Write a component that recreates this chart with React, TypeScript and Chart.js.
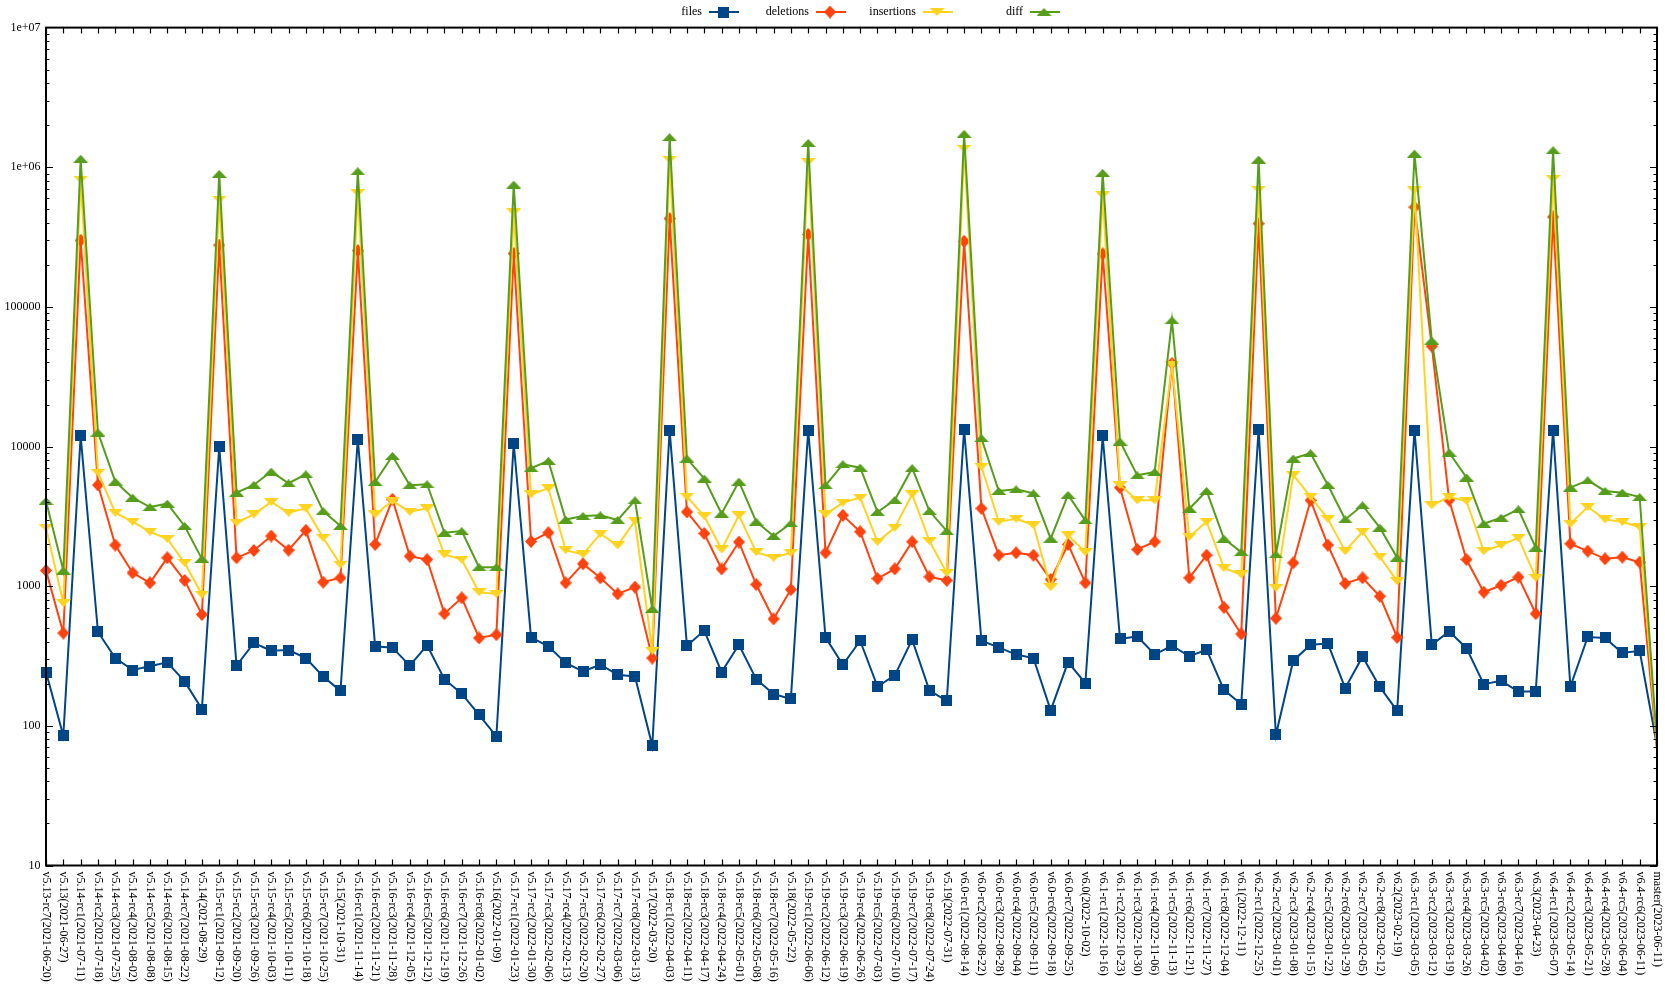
import React, { useEffect, useRef } from "react";
import { Chart, registerables } from "chart.js";

Chart.register(...registerables);

const categories = [
  "v5.13-rc7(2021-06-20)", "v5.13(2021-06-27)", "v5.14-rc1(2021-07-11)", "v5.14-rc2(2021-07-18)",
  "v5.14-rc3(2021-07-25)", "v5.14-rc4(2021-08-02)", "v5.14-rc5(2021-08-08)", "v5.14-rc6(2021-08-15)",
  "v5.14-rc7(2021-08-22)", "v5.14(2021-08-29)", "v5.15-rc1(2021-09-12)", "v5.15-rc2(2021-09-20)",
  "v5.15-rc3(2021-09-26)", "v5.15-rc4(2021-10-03)", "v5.15-rc5(2021-10-11)", "v5.15-rc6(2021-10-18)",
  "v5.15-rc7(2021-10-25)", "v5.15(2021-10-31)", "v5.16-rc1(2021-11-14)", "v5.16-rc2(2021-11-21)",
  "v5.16-rc3(2021-11-28)", "v5.16-rc4(2021-12-05)", "v5.16-rc5(2021-12-12)", "v5.16-rc6(2021-12-19)",
  "v5.16-rc7(2021-12-26)", "v5.16-rc8(2022-01-02)", "v5.16(2022-01-09)", "v5.17-rc1(2022-01-23)",
  "v5.17-rc2(2022-01-30)", "v5.17-rc3(2022-02-06)", "v5.17-rc4(2022-02-13)", "v5.17-rc5(2022-02-20)",
  "v5.17-rc6(2022-02-27)", "v5.17-rc7(2022-03-06)", "v5.17-rc8(2022-03-13)", "v5.17(2022-03-20)",
  "v5.18-rc1(2022-04-03)", "v5.18-rc2(2022-04-11)", "v5.18-rc3(2022-04-17)", "v5.18-rc4(2022-04-24)",
  "v5.18-rc5(2022-05-01)", "v5.18-rc6(2022-05-08)", "v5.18-rc7(2022-05-16)", "v5.18(2022-05-22)",
  "v5.19-rc1(2022-06-06)", "v5.19-rc2(2022-06-12)", "v5.19-rc3(2022-06-19)", "v5.19-rc4(2022-06-26)",
  "v5.19-rc5(2022-07-03)", "v5.19-rc6(2022-07-10)", "v5.19-rc7(2022-07-17)", "v5.19-rc8(2022-07-24)",
  "v5.19(2022-07-31)", "v6.0-rc1(2022-08-14)", "v6.0-rc2(2022-08-22)", "v6.0-rc3(2022-08-28)",
  "v6.0-rc4(2022-09-04)", "v6.0-rc5(2022-09-11)", "v6.0-rc6(2022-09-18)", "v6.0-rc7(2022-09-25)",
  "v6.0(2022-10-02)", "v6.1-rc1(2022-10-16)", "v6.1-rc2(2022-10-23)", "v6.1-rc3(2022-10-30)",
  "v6.1-rc4(2022-11-06)", "v6.1-rc5(2022-11-13)", "v6.1-rc6(2022-11-21)", "v6.1-rc7(2022-11-27)",
  "v6.1-rc8(2022-12-04)", "v6.1(2022-12-11)", "v6.2-rc1(2022-12-25)", "v6.2-rc2(2023-01-01)",
  "v6.2-rc3(2023-01-08)", "v6.2-rc4(2023-01-15)", "v6.2-rc5(2023-01-22)", "v6.2-rc6(2023-01-29)",
  "v6.2-rc7(2023-02-05)", "v6.2-rc8(2023-02-12)", "v6.2(2023-02-19)", "v6.3-rc1(2023-03-05)",
  "v6.3-rc2(2023-03-12)", "v6.3-rc3(2023-03-19)", "v6.3-rc4(2023-03-26)", "v6.3-rc5(2023-04-02)",
  "v6.3-rc6(2023-04-09)", "v6.3-rc7(2023-04-16)", "v6.3(2023-04-23)", "v6.4-rc1(2023-05-07)",
  "v6.4-rc2(2023-05-14)", "v6.4-rc3(2023-05-21)", "v6.4-rc4(2023-05-28)", "v6.4-rc5(2023-06-04)",
  "v6.4-rc6(2023-06-11)", "master(2023-06-11)",
];

const files = [
  243, 85, 11900, 470, 306, 251, 267, 285, 208, 132,
  10000, 270, 392, 345, 349, 306, 226, 178, 11300, 371,
  363, 270, 377, 216, 170, 120, 84, 10560, 430, 371,
  282, 245, 274, 232, 226, 72, 13100, 375, 481, 243,
  381, 216, 169, 156, 13100, 430, 274, 407, 191, 230,
  414, 179, 151, 13300, 407, 365, 324, 306, 129, 286,
  202, 11900, 419, 437, 324, 375, 315, 351, 181, 143,
  13300, 86, 293, 381, 388, 186, 313, 190, 128, 13100,
  381, 475, 360, 199, 210, 176, 176, 13100, 191, 433,
  426, 333, 345, 72,
];

const deletions = [
  1295, 462, 300000, 5310, 1970, 1246, 1057, 1597, 1100, 627,
  277000, 1597, 1803, 2286, 1812, 2513, 1069, 1148, 253000, 1991,
  4190, 1641, 1553, 636, 825, 426, 450, 241000, 2090, 2415,
  1057, 1445, 1148, 881, 985, 306, 429000, 3400, 2386, 1330,
  2071, 1028, 583, 946, 330000, 1735, 3215, 2455, 1135, 1330,
  2080, 1167, 1100, 295000, 3608, 1667, 1735, 1667, 1117, 1991,
  1057, 240000, 5080, 1832, 2080, 39500, 1148, 1667, 706, 455,
  395000, 589, 1470, 4120, 1970, 1045, 1148, 847, 430, 518000,
  52300, 4140, 1553, 906, 1016, 1161, 636, 441000, 2013, 1783,
  1570, 1614, 1486, 68,
];

const insertions = [
  2626, 758, 816000, 6510, 3358, 2895, 2455, 2188, 1470, 871,
  587000, 2850, 3270, 4010, 3358, 3608, 2224, 1430, 655000, 3270,
  4070, 3410, 3608, 1687, 1553, 906, 881, 476000, 4550, 5030,
  1812, 1687, 2375, 1960, 2930, 345, 1135000, 4375, 3180, 1832,
  3215, 1753, 1597, 1735, 1092000, 3270, 3965, 4306, 2080, 2626,
  4550, 2104, 1246, 1360000, 7180, 2895, 3040, 2740, 985, 2320,
  1753, 631000, 5310, 4120, 4120, 38500, 2259, 2895, 1351, 1213,
  692000, 973, 6270, 4375, 3040, 1783, 2455, 1625, 1086, 684000,
  3800, 4350, 4075, 1783, 1970, 2224, 1148, 825000, 2800, 3690,
  3008, 2880, 2650, 70,
];

const diff = [
  4075, 1295, 1150000, 12600, 5610, 4306, 3690, 3900, 2700, 1570,
  896000, 4677, 5310, 6620, 5460, 6330, 3450, 2700, 936000, 5570,
  8570, 5280, 5370, 2415, 2482, 1368, 1368, 751000, 7000, 7890,
  3000, 3180, 3215, 2977, 4120, 687, 1640000, 8200, 5890, 3300,
  5610, 2895, 2286, 2818, 1493000, 5280, 7470, 7060, 3400, 4140,
  7000, 3450, 2482, 1734000, 11470, 4810, 4940, 4625, 2188, 4500,
  2960, 911000, 10860, 6220, 6580, 80300, 3590, 4810, 2188, 1753,
  1135000, 1687, 8200, 8960, 5310, 3008, 3795, 2626, 1597, 1253000,
  57400, 9060, 6000, 2800, 3090, 3550, 1884, 1324000, 5080, 5730,
  4810, 4677, 4350, 75,
];

const seriesNames = ["files", "deletions", "insertions", "diff"];
const yTickValues = [10, 100, 1000, 10000, 100000, 1000000, 10000000];
const yTickLabels = ["10", "100", "1000", "10000", "100000", "1e+06", "1e+07"];

const COLORS = ["#004586", "#ff420e", "#ffd320", "#579d1c"];
const FONT = '"Liberation Serif", "Times New Roman", serif';

function makeMarker(shape: string, color: string): HTMLCanvasElement {
  const c = document.createElement("canvas");
  let w = 11, h = 11;
  if (shape === "diamond") { w = 12; h = 13; }
  if (shape === "up" || shape === "down") { w = 15; h = 8; }
  c.width = w;
  c.height = h;
  const g = c.getContext("2d")!;
  g.fillStyle = color;
  g.beginPath();
  if (shape === "square") {
    g.rect(0, 0, w, h);
  } else if (shape === "diamond") {
    g.moveTo(w / 2, 0);
    g.lineTo(w, h / 2);
    g.lineTo(w / 2, h);
    g.lineTo(0, h / 2);
    g.closePath();
  } else if (shape === "up") {
    g.moveTo(w / 2, 0);
    g.lineTo(w, h);
    g.lineTo(0, h);
    g.closePath();
  } else {
    g.moveTo(0, 0);
    g.lineTo(w, 0);
    g.lineTo(w / 2, h);
    g.closePath();
  }
  g.fill();
  return c;
}

export default function App() {
  const ref = useRef<HTMLCanvasElement | null>(null);

  useEffect(() => {
    if (!ref.current) return;
    const shapes = ["square", "diamond", "down", "up"];
    const markers = shapes.map((s, i) => makeMarker(s, COLORS[i]));
    const seriesData = [files, deletions, insertions, diff];
    const lastIndex = categories.length - 1;

    const framePlugin = {
      id: "gnuFrame",
      afterDraw(chart: any) {
        const { ctx, chartArea: a, scales } = chart;
        const xs = scales.x;
        const ys = scales.y;
        ctx.save();

        // rotated category labels
        ctx.fillStyle = "#000";
        ctx.font = `12px ${FONT}`;
        ctx.textAlign = "left";
        ctx.textBaseline = "middle";
        categories.forEach((c, i) => {
          const px = xs.getPixelForValue(i);
          ctx.save();
          ctx.translate(px, a.bottom + 6);
          ctx.rotate(Math.PI / 2);
          ctx.fillText(c, 0, 0);
          ctx.restore();
        });

        // inward ticks
        ctx.strokeStyle = "#000";
        ctx.lineWidth = 1.2;
        ctx.beginPath();
        categories.forEach((_, i) => {
          const px = Math.round(xs.getPixelForValue(i)) + 0.5;
          ctx.moveTo(px, a.bottom);
          ctx.lineTo(px, a.bottom - 6);
          ctx.moveTo(px, a.top);
          ctx.lineTo(px, a.top + 6);
        });
        for (let e = 1; e <= 6; e++) {
          for (let k = 1; k <= 9; k++) {
            const v = k * Math.pow(10, e);
            const py = Math.round(ys.getPixelForValue(v)) + 0.5;
            const len = k === 1 ? 7 : 3.5;
            ctx.moveTo(a.left, py);
            ctx.lineTo(a.left + len, py);
            ctx.moveTo(a.right, py);
            ctx.lineTo(a.right - len, py);
          }
        }
        ctx.stroke();

        // frame
        ctx.lineWidth = 2;
        ctx.strokeRect(a.left, a.top, a.right - a.left, a.bottom - a.top);

        // legend (text then sample)
        ctx.font = `12px ${FONT}`;
        ctx.textAlign = "right";
        ctx.textBaseline = "middle";
        const ly = 12;
        seriesNames.forEach((name, i) => {
          const mx = 723 + i * 107;
          ctx.fillStyle = "#000";
          ctx.fillText(name, mx - 21, ly);
          ctx.strokeStyle = COLORS[i];
          ctx.lineWidth = 2;
          ctx.beginPath();
          ctx.moveTo(mx - 14, ly);
          ctx.lineTo(mx + 16, ly);
          ctx.stroke();
          const m = markers[i];
          ctx.drawImage(m, mx - m.width / 2, ly - m.height / 2);
        });

        ctx.restore();
      },
    };

    const chart = new Chart(ref.current, {
      type: "line",
      data: {
        labels: categories,
        datasets: seriesNames.map((name, i) => ({
          label: name,
          data: seriesData[i],
          borderColor: COLORS[i],
          backgroundColor: COLORS[i],
          borderWidth: 2,
          pointStyle: markers[i] as any,
          pointRadius: (c: any) => (c.dataIndex === lastIndex ? 0 : 6),
          tension: 0,
          fill: false,
          order: 3 - i,
        })),
      },
      options: {
        animation: false,
        responsive: false,
        devicePixelRatio: 1,
        layout: { padding: { top: 27.6, right: 8, left: 0, bottom: 0 } },
        plugins: {
          legend: { display: false },
          tooltip: { enabled: false },
        },
        scales: {
          x: {
            type: "category",
            offset: false,
            grid: { display: false, drawTicks: false },
            border: { display: false },
            ticks: { display: false },
            afterFit: (s: any) => {
              s.height = 129.5;
            },
          },
          y: {
            type: "logarithmic",
            min: 10,
            max: 10000000,
            grid: { display: false, drawTicks: false },
            border: { display: false },
            ticks: {
              autoSkip: false,
              padding: 5.5,
              color: "#000",
              font: { family: FONT, size: 12 },
              callback: (v: any) => {
                const idx = yTickValues.findIndex((t) => Math.abs(t - Number(v)) < 1e-6 * t);
                return idx >= 0 ? yTickLabels[idx] : "";
              },
            },
            afterFit: (s: any) => {
              s.width = 46;
            },
          },
        },
      },
      plugins: [framePlugin],
    });

    return () => chart.destroy();
  }, []);

  return (
    <canvas
      ref={ref}
      width={1665}
      height={995}
      style={{ position: "absolute", left: 0, top: 0, width: 1665, height: 995 }}
    />
  );
}
